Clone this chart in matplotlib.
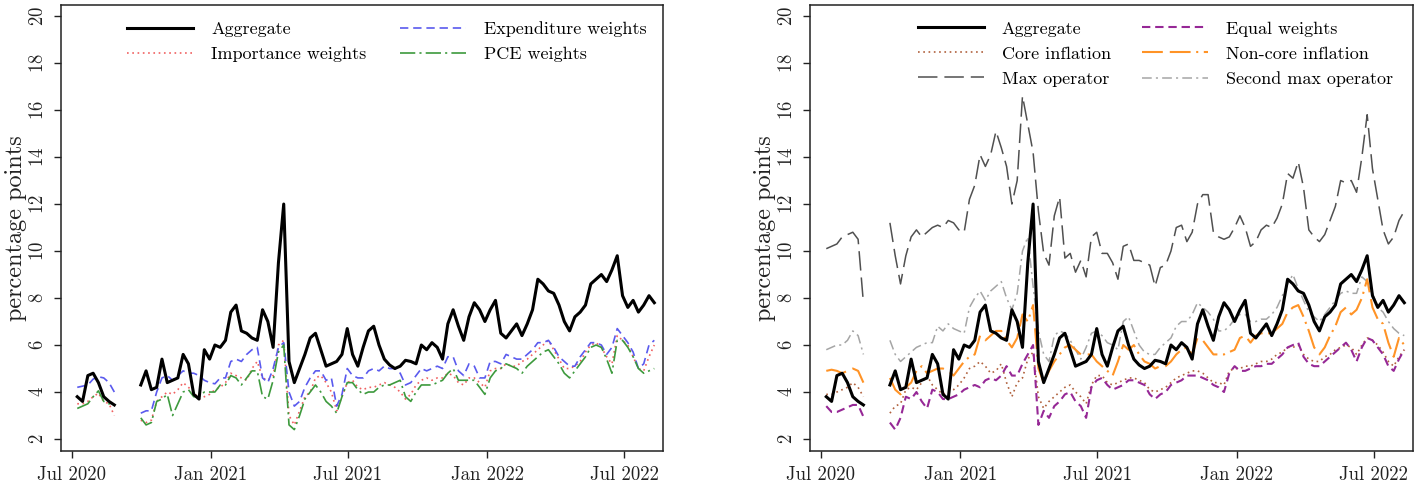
#!/usr/bin/env python

import matplotlib
import pandas
from matplotlib import dates, pyplot

matplotlib.use("Agg")

# weekly readings, block a = Jul/Aug 2020, block b = Sep 2020 .. Aug 2022 (gap in between)
week_a = pandas.date_range("2020-07-08", periods=8, freq="7D")
week_b = pandas.date_range("2020-09-30", "2022-08-10", freq="7D")

aggregate_a = [3.8, 3.6, 4.7, 4.8, 4.4, 3.8, 3.6, 3.45]
aggregate_b = [
    4.3, 4.9, 4.1, 4.2, 5.4, 4.4, 4.5, 4.6, 5.6, 5.2,
    3.9, 3.7, 5.8, 5.4, 6.0, 5.9, 6.2, 7.4, 7.7, 6.6,
    6.5, 6.3, 6.2, 7.5, 7.0, 5.9, 9.5, 12.0, 5.3, 4.4,
    5.0, 5.6, 6.3, 6.5, 5.8, 5.1, 5.2, 5.3, 5.6, 6.7,
    5.6, 5.1, 5.9, 6.6, 6.8, 6.0, 5.4, 5.15, 5.0, 5.1,
    5.35, 5.3, 5.2, 6.0, 5.8, 6.1, 5.9, 5.4, 6.9, 7.5,
    6.8, 6.2, 7.2, 7.8, 7.5, 7.0, 7.5, 7.9, 6.5, 6.3,
    6.6, 6.9, 6.4, 6.9, 7.5, 8.8, 8.6, 8.3, 8.2, 7.7,
    7.0, 6.6, 7.2, 7.4, 7.7, 8.6, 8.8, 9.0, 8.7, 9.2,
    9.8, 8.1, 7.6, 7.9, 7.4, 7.7, 8.1, 7.8,
]

importance_a = [3.5, 3.5, 3.6, 3.8, 3.95, 3.6, 3.5, 3.0]
importance_b = [
    2.8, 2.7, 2.8, 3.6, 3.8, 4.0, 3.9, 4.1, 4.4, 4.2,
    4.0, 3.7, 3.8, 3.9, 4.1, 4.2, 4.4, 4.8, 4.7, 4.6,
    4.5, 5.0, 5.3, 4.6, 4.5, 4.7, 6.0, 6.2, 3.0, 2.6,
    3.2, 3.8, 4.0, 4.6, 4.7, 4.4, 4.0, 3.2, 3.8, 4.4,
    4.5, 4.2, 4.1, 4.2, 4.2, 4.3, 4.4, 4.3, 4.2, 4.0,
    3.7, 3.9, 4.3, 4.5, 4.6, 4.5, 4.6, 4.6, 4.8, 4.7,
    4.4, 4.3, 4.6, 4.6, 4.4, 4.2, 4.9, 5.0, 5.0, 5.2,
    5.1, 5.1, 5.3, 5.4, 5.6, 5.8, 6.0, 6.2, 5.8, 5.4,
    5.0, 5.0, 5.1, 5.3, 5.7, 6.0, 6.1, 5.9, 5.5, 5.2,
    6.4, 6.2, 6.0, 5.5, 5.0, 4.9, 5.5, 6.0,
]

expenditure_a = [4.2, 4.25, 4.3, 4.55, 4.65, 4.6, 4.4, 4.0]
expenditure_b = [
    3.1, 3.2, 3.2, 4.0, 4.6, 4.7, 4.5, 4.7, 4.9, 4.8,
    4.8, 4.7, 4.5, 4.4, 4.35, 4.6, 4.6, 5.3, 5.4, 5.3,
    5.6, 5.8, 5.9, 4.6, 4.4, 5.0, 5.9, 6.1, 4.0, 3.4,
    3.6, 4.2, 4.6, 4.9, 4.9, 4.5, 4.6, 3.4, 3.9, 5.0,
    4.7, 4.6, 4.6, 4.9, 5.0, 4.9, 5.1, 5.0, 5.0, 4.8,
    4.3, 4.4, 4.7, 5.0, 4.9, 5.0, 5.1, 5.0, 5.5, 5.5,
    4.9, 4.7, 5.2, 5.1, 4.6, 4.6, 5.3, 5.3, 5.2, 5.6,
    5.5, 5.4, 5.4, 5.6, 5.8, 6.1, 6.1, 6.2, 5.9, 5.5,
    5.3, 5.1, 5.1, 5.5, 5.8, 6.1, 6.1, 6.0, 5.6, 5.9,
    6.7, 6.4, 6.1, 5.7, 5.0, 5.2, 6.0, 6.2,
]

pce_a = [3.3, 3.4, 3.5, 3.8, 4.05, 3.6, 3.5, 3.5]
pce_b = [
    2.9, 2.6, 2.7, 3.6, 3.7, 3.9, 3.0, 3.5, 4.0, 4.1,
    3.8, 3.8, 4.0, 4.0, 4.0, 4.3, 4.3, 4.7, 4.6, 4.3,
    4.6, 4.9, 4.9, 3.8, 3.7, 4.5, 5.7, 6.0, 2.6, 2.4,
    3.0, 3.7, 4.0, 4.3, 4.0, 3.6, 3.4, 3.1, 3.8, 4.4,
    4.4, 4.1, 3.9, 4.0, 4.0, 4.2, 4.3, 4.3, 4.4, 4.5,
    3.8, 3.6, 4.0, 4.3, 4.3, 4.3, 4.4, 4.5, 4.8, 5.0,
    4.5, 4.5, 4.5, 4.5, 4.2, 3.9, 4.6, 4.9, 5.0, 5.2,
    5.1, 5.0, 4.8, 5.1, 5.3, 5.5, 5.7, 5.8, 5.5, 5.2,
    4.8, 4.6, 4.9, 5.2, 5.5, 5.9, 6.0, 5.9, 5.4, 4.8,
    6.2, 6.2, 5.9, 5.5, 5.0, 4.8, 4.9, 5.0,
]

core_a = [3.9, 3.9, 4.0, 4.1, 4.2, 4.4, 4.2, 3.8]
core_b = [
    3.1, 3.4, 3.5, 4.1, 4.2, 4.1, 4.4, 4.7, 4.3, 4.1,
    3.9, 4.0, 4.1, 4.3, 4.6, 5.0, 5.1, 5.3, 5.1, 4.8,
    4.9, 5.2, 4.4, 3.8, 4.4, 4.6, 5.4, 5.7, 3.8, 3.3,
    3.6, 3.8, 4.0, 4.2, 4.3, 4.0, 3.8, 3.5, 4.3, 4.7,
    4.7, 4.4, 4.3, 4.4, 4.5, 4.6, 4.6, 4.5, 4.4, 4.1,
    4.0, 4.1, 4.2, 4.4, 4.6, 4.7, 4.8, 4.9, 4.9, 4.8,
    4.6, 4.4, 4.4, 4.3, 4.9, 5.0, 5.0, 5.1, 5.1, 5.2,
    5.3, 5.3, 5.4, 5.6, 5.7, 5.9, 5.9, 6.0, 5.6, 5.4,
    5.3, 5.3, 5.5, 5.6, 5.8, 5.9, 6.0, 5.9, 5.6, 6.0,
    6.3, 6.2, 6.0, 5.7, 5.3, 5.1, 5.5, 5.8,
]

equal_a = [3.4, 3.15, 3.15, 3.25, 3.35, 3.45, 3.45, 2.95]
equal_b = [
    2.7, 2.4, 2.9, 3.8, 3.7, 4.0, 3.6, 3.3, 4.1, 4.0,
    3.7, 3.7, 3.8, 3.9, 4.1, 4.2, 4.3, 4.2, 4.5, 4.6,
    4.5, 4.7, 5.1, 4.7, 4.7, 5.2, 5.6, 6.0, 2.6, 3.2,
    2.9, 3.4, 3.6, 3.9, 4.0, 3.6, 3.4, 2.9, 4.2, 4.5,
    4.6, 4.3, 4.1, 4.2, 4.3, 4.5, 4.5, 4.4, 4.3, 3.9,
    3.7, 3.9, 4.0, 4.3, 4.4, 4.5, 4.7, 4.7, 4.7, 4.6,
    4.5, 4.3, 4.2, 4.0, 4.8, 5.1, 4.9, 4.9, 5.0, 5.1,
    5.1, 5.2, 5.2, 5.4, 5.6, 5.9, 6.0, 6.1, 5.5, 5.2,
    5.1, 5.1, 5.3, 5.5, 5.7, 5.9, 6.1, 5.8, 5.3, 5.9,
    6.3, 6.2, 5.9, 5.6, 5.1, 4.9, 5.4, 5.8,
]

noncore_a = [4.9, 4.95, 4.9, 4.8, 4.9, 5.0, 4.9, 4.4]
noncore_b = [
    4.6, 4.1, 3.9, 4.2, 4.4, 4.9, 5.1, 4.8, 4.9, 5.0,
    5.0, 4.9, 4.7, 5.0, 5.3, 5.5, 5.6, 6.4, 6.2, 6.4,
    6.6, 6.6, 6.2, 5.9, 6.3, 7.3, 7.0, 7.7, 5.0, 4.4,
    4.9, 5.3, 5.6, 5.9, 6.0, 5.8, 5.6, 5.6, 5.6, 5.3,
    5.1, 4.9, 4.7, 5.3, 6.0, 5.8, 6.0, 5.6, 5.3, 5.2,
    5.0, 5.1, 5.1, 5.3, 5.6, 5.8, 5.9, 5.6, 6.3, 6.2,
    5.9, 5.6, 5.6, 5.6, 5.7, 5.8, 6.3, 6.4, 6.1, 6.4,
    6.5, 6.5, 6.5, 6.7, 6.9, 7.4, 7.6, 7.7, 7.2, 6.6,
    5.9, 5.6, 5.9, 6.4, 6.8, 7.4, 7.6, 7.3, 7.5, 8.0,
    8.8, 7.6, 7.1, 6.9, 6.1, 5.5, 6.3, 6.0,
]

max_a = [10.1, 10.2, 10.3, 10.6, 10.7, 10.8, 10.5, 7.8]
max_b = [
    11.2, 9.8, 8.6, 9.8, 10.6, 10.9, 10.6, 10.8, 11.0, 11.1,
    11.0, 11.3, 11.2, 10.9, 10.8, 12.2, 12.8, 14.1, 13.6, 14.1,
    15.1, 14.4, 13.6, 12.0, 13.0, 16.6, 15.4, 14.2, 11.7, 9.9,
    9.4, 11.5, 12.3, 9.7, 9.9, 9.1, 9.6, 8.9, 10.6, 10.8,
    9.9, 9.9, 9.5, 8.8, 10.2, 10.3, 9.6, 9.6, 9.5, 9.4,
    8.5, 9.3, 9.4, 10.0, 11.0, 11.1, 10.4, 10.8, 12.0, 12.4,
    12.4, 10.8, 10.6, 10.5, 10.6, 11.0, 11.5, 11.0, 10.2, 10.4,
    10.9, 11.1, 11.0, 11.4, 12.0, 13.3, 13.1, 13.8, 12.7, 10.9,
    10.6, 10.4, 10.7, 11.3, 11.9, 13.0, 12.9, 13.0, 12.5, 14.0,
    15.8, 13.5, 12.2, 10.9, 10.3, 10.6, 11.3, 11.7,
]

second_max_a = [5.8, 5.9, 6.0, 6.0, 6.2, 6.6, 6.4, 5.6]
second_max_b = [
    6.2, 5.6, 5.3, 5.5, 5.7, 5.9, 6.0, 6.1, 6.1, 6.8,
    6.6, 6.9, 6.7, 6.6, 6.5, 7.6, 8.0, 8.3, 7.9, 8.3,
    8.5, 8.7, 8.0, 7.5, 8.2, 10.0, 10.6, 8.5, 6.6, 5.6,
    5.3, 6.4, 6.6, 6.5, 6.2, 5.8, 5.4, 5.9, 6.5, 6.6,
    6.4, 6.1, 6.0, 5.8, 7.0, 7.2, 6.6, 6.0, 5.7, 5.6,
    5.6, 5.9, 6.1, 6.3, 6.8, 7.0, 7.0, 7.3, 7.8, 7.6,
    7.4, 7.1, 6.6, 6.6, 6.8, 7.1, 7.3, 7.3, 7.0, 7.0,
    7.1, 7.1, 7.3, 7.6, 8.1, 8.6, 9.0, 8.4, 7.9, 7.4,
    7.2, 7.0, 7.3, 7.6, 7.9, 8.2, 8.3, 8.2, 8.2, 8.9,
    8.7, 8.2, 7.6, 7.4, 7.0, 6.7, 6.5, 6.4,
]

x_ticks = ["2020-07-01", "2021-01-01", "2021-07-01", "2022-01-01", "2022-07-01"]
y_ticks = list(range(2, 21, 2))

W, H = 1419, 486


def draw(ax, a, b, label, **kw):
    ax.plot(week_a, a, **kw)
    ax.plot(week_b, b, label=label, **kw)


def frame(ax):
    ax.set_xlim(pandas.Timestamp("2020-06-16 12:00"), pandas.Timestamp("2022-08-21 12:00"))
    ax.set_ylim(1.49, 20.47)
    ax.set_xticks(pandas.to_datetime(x_ticks))
    ax.xaxis.set_major_formatter(dates.DateFormatter("%b %Y"))
    ax.set_yticks(y_ticks)
    ax.tick_params(axis="both", direction="out", length=5, width=1.0,
                   labelsize=13.5, colors="#222222")
    ax.tick_params(axis="x", pad=6)
    ax.tick_params(axis="y", pad=5)
    for t in ax.get_yticklabels():
        t.set_rotation(90)
        t.set_va("center")
    for s in ax.spines.values():
        s.set_linewidth(1.1)
        s.set_color("#222222")
    ax.set_ylabel("percentage points", fontsize=17.5, color="#222222")
    ax.yaxis.set_label_coords(-0.057, 0.5)


def legend(ax, names, x, spacing):
    h, l = ax.get_legend_handles_labels()
    idx = [l.index(n) for n in names]
    ax.legend([h[i] for i in idx], [l[i] for i in idx], ncol=2,
              loc="upper left", bbox_to_anchor=(x, 0.964), frameon=False,
              fontsize=13, handlelength=3.65, handletextpad=1.0,
              columnspacing=spacing, borderpad=0, borderaxespad=0,
              labelspacing=0.52)


def plot(save: bool = True):
    pyplot.rcParams["font.family"] = "cmr10"
    pyplot.rcParams["mathtext.fontset"] = "cm"
    pyplot.rcParams["axes.formatter.use_mathtext"] = True
    pyplot.rcParams["lines.scale_dashes"] = False

    fig = pyplot.figure(figsize=(W / 100, H / 100), dpi=100)
    ax1 = fig.add_axes([61 / W, 1 - 451 / H, 602 / W, 446 / H])
    ax2 = fig.add_axes([810 / W, 1 - 451 / H, 603 / W, 446 / H])

    # left panel
    draw(ax1, aggregate_a, aggregate_b, "Aggregate", color="black", lw=2.2, zorder=5)
    draw(ax1, importance_a, importance_b, "Importance weights",
         color="#f06060", lw=1.2, dashes=(1.2, 2.6))
    draw(ax1, expenditure_a, expenditure_b, "Expenditure weights",
         color="#5a5aee", lw=1.2, dashes=(6, 3.5))
    draw(ax1, pce_a, pce_b, "PCE weights",
         color="#3d9a3d", lw=1.2, dashes=(11, 3, 1.5, 3))

    # right panel
    draw(ax2, max_a, max_b, "Max operator",
         color="#505050", lw=1.1, dashes=(14, 5))
    draw(ax2, second_max_a, second_max_b, "Second max operator",
         color="#a5a5a5", lw=1.1, dashes=(7, 3, 1.5, 3))
    draw(ax2, core_a, core_b, "Core inflation",
         color="#b0603c", lw=1.2, dashes=(1.2, 2.6))
    draw(ax2, equal_a, equal_b, "Equal weights",
         color="#962896", lw=1.5, dashes=(6, 3.5))
    draw(ax2, noncore_a, noncore_b, "Non-core inflation",
         color="#ff9326", lw=1.5, dashes=(15, 5, 15, 4, 1.5, 4))
    draw(ax2, aggregate_a, aggregate_b, "Aggregate", color="black", lw=2.2, zorder=5)

    legend(ax1, ["Aggregate", "Importance weights",
                 "Expenditure weights", "PCE weights"], 0.1096, 1.9)
    legend(ax2, ["Aggregate", "Core inflation", "Max operator",
                 "Equal weights", "Non-core inflation",
                 "Second max operator"], 0.179, 1.7)

    frame(ax1)
    frame(ax2)

    if save:
        fig.savefig("out.png", dpi=100)


plot()
